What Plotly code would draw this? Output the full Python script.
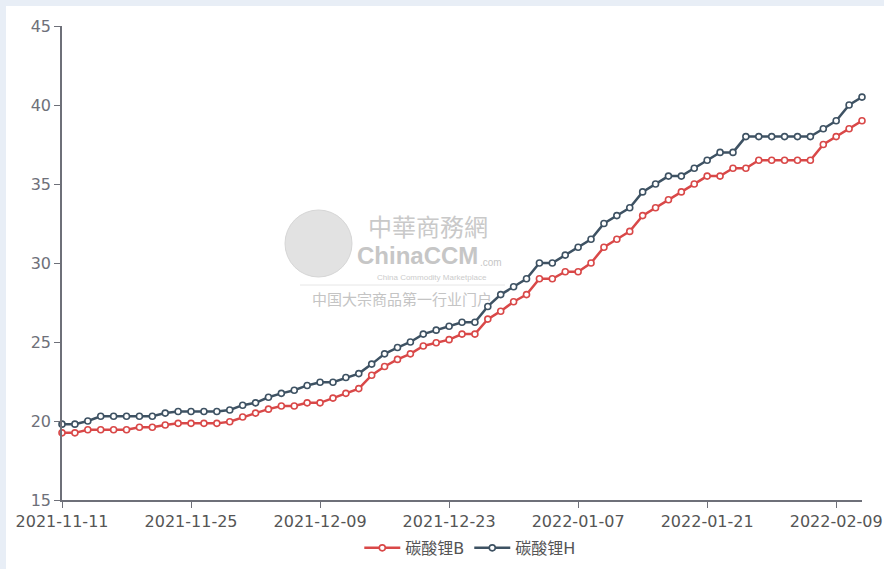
import plotly.graph_objects as go

dates = [
    "2021-11-11", "2021-11-12", "2021-11-15", "2021-11-16", "2021-11-17", "2021-11-18", "2021-11-19",
    "2021-11-22", "2021-11-23", "2021-11-24", "2021-11-25", "2021-11-26", "2021-11-29", "2021-11-30",
    "2021-12-01", "2021-12-02", "2021-12-03", "2021-12-06", "2021-12-07", "2021-12-08", "2021-12-09",
    "2021-12-10", "2021-12-13", "2021-12-14", "2021-12-15", "2021-12-16", "2021-12-17", "2021-12-20",
    "2021-12-21", "2021-12-22", "2021-12-23", "2021-12-24", "2021-12-27", "2021-12-28", "2021-12-29",
    "2021-12-30", "2021-12-31", "2022-01-04", "2022-01-05", "2022-01-06", "2022-01-07", "2022-01-10",
    "2022-01-11", "2022-01-12", "2022-01-13", "2022-01-14", "2022-01-17", "2022-01-18", "2022-01-19",
    "2022-01-20", "2022-01-21", "2022-01-24", "2022-01-25", "2022-01-26", "2022-01-27", "2022-01-28",
    "2022-01-29", "2022-01-30", "2022-02-07", "2022-02-08", "2022-02-09", "2022-02-10", "2022-02-11",
]

lithium_b = [
    19.25, 19.25, 19.45, 19.45, 19.45, 19.45, 19.6, 19.6, 19.75, 19.85,
    19.85, 19.85, 19.85, 19.95, 20.25, 20.5, 20.75, 20.95, 20.95, 21.15,
    21.15, 21.45, 21.75, 22.05, 22.9, 23.45, 23.9, 24.25, 24.75, 24.95,
    25.15, 25.5, 25.5, 26.45, 26.95, 27.55, 28.0, 29.0, 29.0, 29.45,
    29.45, 30.0, 31.0, 31.5, 32.0, 33.0, 33.5, 34.0, 34.5, 35.0,
    35.5, 35.5, 36.0, 36.0, 36.5, 36.5, 36.5, 36.5, 36.5, 37.5,
    38.0, 38.5, 39.0,
]

lithium_h = [
    19.8, 19.8, 20.0, 20.3, 20.3, 20.3, 20.3, 20.3, 20.5, 20.6,
    20.6, 20.6, 20.6, 20.7, 21.0, 21.15, 21.5, 21.75, 21.95, 22.25,
    22.45, 22.45, 22.75, 23.0, 23.6, 24.25, 24.65, 25.0, 25.5, 25.75,
    26.0, 26.25, 26.25, 27.25, 28.0, 28.5, 29.0, 30.0, 30.0, 30.5,
    31.0, 31.5, 32.5, 33.0, 33.5, 34.5, 35.0, 35.5, 35.5, 36.0,
    36.5, 37.0, 37.0, 38.0, 38.0, 38.0, 38.0, 38.0, 38.0, 38.5,
    39.0, 40.0, 40.5,
]

series_names = ["碳酸锂B", "碳酸锂H"]
series_colors = ["#d94848", "#3e5263"]

tick_labels = dates[::10]

FONT = "DejaVu Sans, Noto Sans CJK SC, sans-serif"
CJK = "Noto Sans CJK TC, Noto Sans CJK SC, sans-serif"
LATIN = "Liberation Sans, Arial, sans-serif"
AXIS_COLOR = "#6e7079"


def px_x(p):
    return (p - 62) / 800


def px_y(p):
    return (500 - p) / 474


fig = go.Figure()
for name, vals, color in zip(series_names, [lithium_b, lithium_h], series_colors):
    fig.add_trace(go.Scatter(
        x=dates, y=vals, name=name, mode="lines+markers",
        line=dict(color=color, width=2.5),
        marker=dict(symbol="circle", size=6, color="white",
                    line=dict(color=color, width=1.6)),
        cliponaxis=False,
    ))

# watermark (ChinaCCM logo text)
watermark = [
    ("中華商務網", 428, 225, 24, CJK, "#c9c9c9"),
    ("<b>ChinaCCM</b>", 417, 256, 24, LATIN, "#c6c6c6"),
    (".com", 491, 262, 10, LATIN, "#c6c6c6"),
    ("China Commodity Marketplace", 432, 277, 8, LATIN, "#cccccc"),
    ("中国大宗商品第一行业门户", 402, 298, 15, CJK, "#c4c4c4"),
]
annotations = [
    dict(text=t, x=px_x(x), y=px_y(y), xref="paper", yref="paper",
         showarrow=False, xanchor="center", yanchor="middle",
         font=dict(size=s, family=f, color=c))
    for t, x, y, s, f, c in watermark
]

shapes = [
    dict(type="rect", xref="paper", yref="paper",
         x0=-0.07, x1=1.03, y0=-0.2, y1=1.042,
         fillcolor="white", line=dict(width=0), layer="below"),
    dict(type="circle", xref="paper", yref="paper",
         x0=px_x(285), x1=px_x(352), y0=px_y(277), y1=px_y(210),
         fillcolor="#e2e2e2", line=dict(color="#d6d6d6", width=1), layer="below"),
    dict(type="line", xref="paper", yref="paper",
         x0=px_x(300), x1=px_x(505), y0=px_y(285), y1=px_y(285),
         line=dict(color="#e6e6e6", width=1), layer="below"),
]

fig.update_layout(
    width=884, height=569,
    margin=dict(l=62, r=22, t=26, b=69, autoexpand=False),
    paper_bgcolor="#e8eef6",
    plot_bgcolor="white",
    font=dict(family=FONT, size=15, color=AXIS_COLOR),
    showlegend=True,
    legend=dict(orientation="h", xref="container", yref="container",
                x=0.532, xanchor="center", y=0.037, yanchor="middle",
                font=dict(size=16, color="#555"), itemwidth=36, bgcolor="rgba(0,0,0,0)"),
    shapes=shapes,
    annotations=annotations,
    xaxis=dict(
        type="category", range=[0, len(dates) - 1], automargin=False,
        tickmode="array", tickvals=tick_labels, ticktext=tick_labels,
        showline=True, linecolor=AXIS_COLOR, linewidth=1.5,
        ticks="outside", ticklen=6, tickcolor=AXIS_COLOR,
        showgrid=False, zeroline=False,
        tickfont=dict(size=16, color="#555"),
    ),
    yaxis=dict(
        range=[15, 45], dtick=5, tick0=15, automargin=False,
        showline=True, linecolor=AXIS_COLOR, linewidth=1.5,
        ticks="outside", ticklen=6, tickcolor=AXIS_COLOR,
        showgrid=False, zeroline=False,
        tickfont=dict(size=16, color=AXIS_COLOR),
    ),
)

fig.write_html(
    "out.html",
    config={"displayModeBar": False},
    post_script="document.body.style.margin='0';document.body.style.padding='0';",
)
